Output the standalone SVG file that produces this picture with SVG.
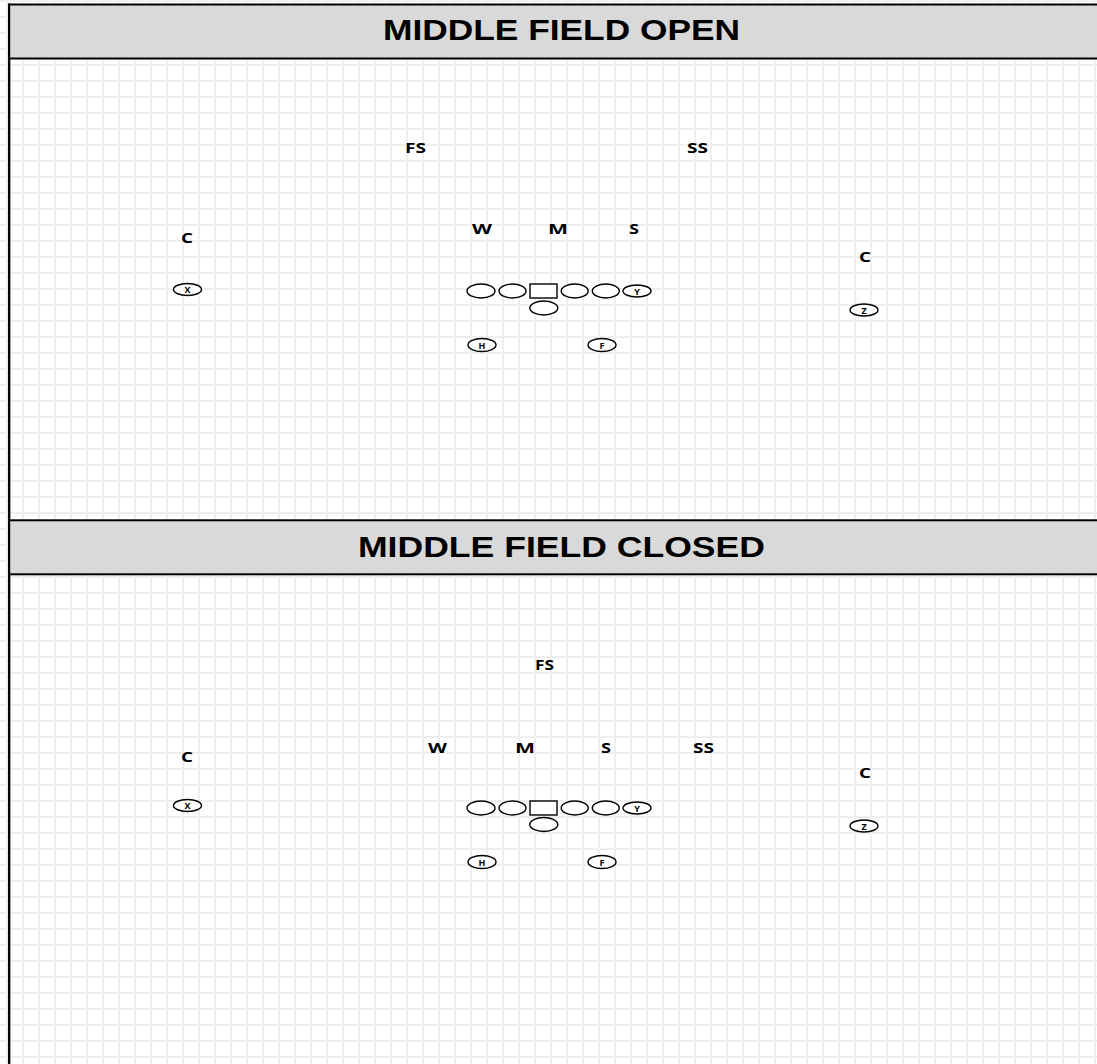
<svg xmlns="http://www.w3.org/2000/svg" width="1097" height="1064" viewBox="0 0 1097 1064">
<style>
.hdr{fill:#d9d9d9;stroke:#000;stroke-width:2}
.title{font-family:"Liberation Sans",Arial,sans-serif;font-weight:bold;font-size:29px;fill:#000}
.lbl{font-family:"Open Sans","Noto Sans",sans-serif;font-weight:bold;font-size:14px;fill:#000}
.pl{fill:#fff;stroke:#000;stroke-width:1.4}
.pt{font-family:"Open Sans","Noto Sans",sans-serif;font-weight:bold;font-size:9px;fill:#000;text-anchor:middle}
</style>
<defs>
<pattern id="grid" patternUnits="userSpaceOnUse" x="0" y="0" width="16" height="16">
<rect x="0" y="0" width="16" height="16" fill="#fff"/>
<rect x="6" y="0" width="2" height="16" fill="#efefef"/>
<rect x="0" y="0" width="16" height="2" fill="#efefef"/>
</pattern>
</defs>
<rect x="0" y="0" width="1097" height="1064" fill="url(#grid)"/>
<line x1="9.2" y1="3.5" x2="9.2" y2="1064" stroke="#000" stroke-width="2.3"/>

<g id="header-open">
<rect class="hdr" x="9.2" y="4.5" width="1095" height="54"/>
<text class="title" x="383" y="40" textLength="357" lengthAdjust="spacingAndGlyphs">MIDDLE FIELD OPEN</text>
</g>
<g id="header-closed">
<rect class="hdr" x="9.2" y="520.3" width="1095" height="54"/>
<text class="title" x="358" y="557" textLength="407" lengthAdjust="spacingAndGlyphs">MIDDLE FIELD CLOSED</text>
</g>

<g id="open-defense">
<text id="o-fs" class="lbl" x="405" y="153" textLength="21" lengthAdjust="spacingAndGlyphs">FS</text>
<text id="o-ss" class="lbl" x="687" y="153" textLength="21" lengthAdjust="spacingAndGlyphs">SS</text>
<text id="o-w" class="lbl" x="472" y="234" textLength="20" lengthAdjust="spacingAndGlyphs">W</text>
<text id="o-m" class="lbl" x="548" y="234" textLength="20" lengthAdjust="spacingAndGlyphs">M</text>
<text id="o-s" class="lbl" x="629" y="234" textLength="10" lengthAdjust="spacingAndGlyphs">S</text>
<text id="o-cl" class="lbl" x="181" y="243" textLength="12" lengthAdjust="spacingAndGlyphs">C</text>
<text id="o-cr" class="lbl" x="859" y="262" textLength="12" lengthAdjust="spacingAndGlyphs">C</text>
</g>
<g id="open-offense">
<g id="o-x"><ellipse class="pl" cx="187.5" cy="289.5" rx="14" ry="6"/><text class="pt" x="187.5" y="293">X</text></g>
<g id="o-z"><ellipse class="pl" cx="864" cy="310" rx="14" ry="6"/><text class="pt" x="864" y="313.5">Z</text></g>
<g id="o-lt"><ellipse class="pl" cx="481" cy="291" rx="14" ry="7"/></g>
<g id="o-lg"><ellipse class="pl" cx="512.5" cy="291" rx="13.5" ry="7"/></g>
<g id="o-c"><rect class="pl" x="530" y="284" width="27" height="14"/></g>
<g id="o-rg"><ellipse class="pl" cx="574.7" cy="291" rx="13.5" ry="7"/></g>
<g id="o-rt"><ellipse class="pl" cx="605.8" cy="291" rx="13.5" ry="7"/></g>
<g id="o-y"><ellipse class="pl" cx="637" cy="291" rx="14" ry="6"/><text class="pt" x="637" y="294.5">Y</text></g>
<g id="o-qb"><ellipse class="pl" cx="543.8" cy="308" rx="14" ry="7"/></g>
<g id="o-h"><ellipse class="pl" cx="482" cy="345" rx="14" ry="6.5"/><text class="pt" x="482" y="348.8">H</text></g>
<g id="o-f"><ellipse class="pl" cx="602" cy="345" rx="14" ry="6.5"/><text class="pt" x="602" y="348.8">F</text></g>
</g>

<g id="closed-defense">
<text id="c-fs" class="lbl" x="535" y="670" textLength="19" lengthAdjust="spacingAndGlyphs">FS</text>
<text id="c-w" class="lbl" x="428" y="753" textLength="19" lengthAdjust="spacingAndGlyphs">W</text>
<text id="c-m" class="lbl" x="515" y="753" textLength="20" lengthAdjust="spacingAndGlyphs">M</text>
<text id="c-s" class="lbl" x="601" y="753" textLength="10" lengthAdjust="spacingAndGlyphs">S</text>
<text id="c-ss" class="lbl" x="693" y="753" textLength="21" lengthAdjust="spacingAndGlyphs">SS</text>
<text id="c-cl" class="lbl" x="181" y="762" textLength="12" lengthAdjust="spacingAndGlyphs">C</text>
<text id="c-cr" class="lbl" x="859" y="778" textLength="12" lengthAdjust="spacingAndGlyphs">C</text>
</g>
<g id="closed-offense">
<g id="c-x"><ellipse class="pl" cx="187.5" cy="805.5" rx="14" ry="6"/><text class="pt" x="187.5" y="809">X</text></g>
<g id="c-z"><ellipse class="pl" cx="864" cy="826" rx="14" ry="6"/><text class="pt" x="864" y="829.5">Z</text></g>
<g id="c-lt"><ellipse class="pl" cx="481" cy="808" rx="14" ry="7"/></g>
<g id="c-lg"><ellipse class="pl" cx="512.5" cy="808" rx="13.5" ry="7"/></g>
<g id="c-c"><rect class="pl" x="530" y="801" width="27" height="14"/></g>
<g id="c-rg"><ellipse class="pl" cx="574.7" cy="808" rx="13.5" ry="7"/></g>
<g id="c-rt"><ellipse class="pl" cx="605.8" cy="808" rx="13.5" ry="7"/></g>
<g id="c-y"><ellipse class="pl" cx="637" cy="808" rx="14" ry="6"/><text class="pt" x="637" y="811.5">Y</text></g>
<g id="c-qb"><ellipse class="pl" cx="543.8" cy="824.5" rx="14" ry="7"/></g>
<g id="c-h"><ellipse class="pl" cx="482" cy="862" rx="14" ry="6.5"/><text class="pt" x="482" y="865.8">H</text></g>
<g id="c-f"><ellipse class="pl" cx="602" cy="862" rx="14" ry="6.5"/><text class="pt" x="602" y="865.8">F</text></g>
</g>
<g id="connectors"/>
</svg>
